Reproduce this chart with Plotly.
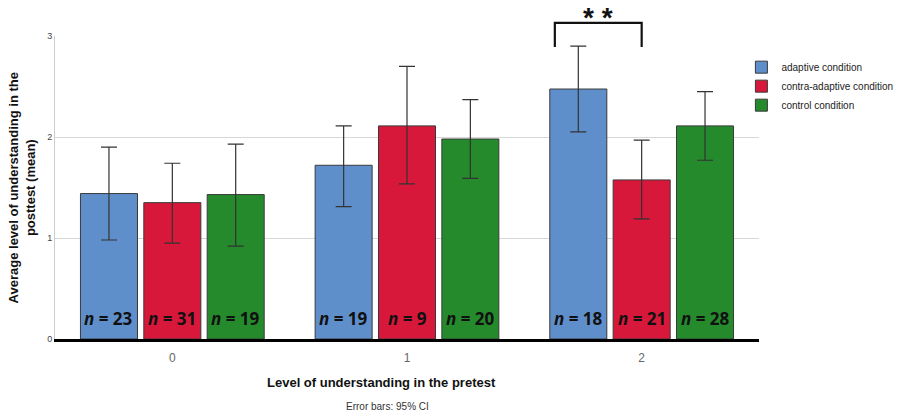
import plotly.graph_objects as go

categories = ["0", "1", "2"]
conditions = ["adaptive condition", "contra-adaptive condition", "control condition"]
colors = ["#5f8fcb", "#d7183b", "#258a2c"]

means_adaptive = [1.44, 1.72, 2.475]
means_contra = [1.35, 2.11, 1.575]
means_control = [1.43, 1.98, 2.11]

ci_upper_adaptive = [1.90, 2.11, 2.90]
ci_upper_contra = [1.74, 2.70, 1.97]
ci_upper_control = [1.93, 2.37, 2.45]

ci_lower_adaptive = [0.98, 1.31, 2.05]
ci_lower_contra = [0.95, 1.535, 1.19]
ci_lower_control = [0.92, 1.59, 1.77]

n_adaptive = [23, 19, 18]
n_contra = [31, 9, 21]
n_control = [19, 20, 28]

means = [means_adaptive, means_contra, means_control]
uppers = [ci_upper_adaptive, ci_upper_contra, ci_upper_control]
lowers = [ci_lower_adaptive, ci_lower_contra, ci_lower_control]
ns = [n_adaptive, n_contra, n_control]

BARGAP = 0.19
GROUPGAP = 0.1

fig = go.Figure()
xpos = [0, 1, 2]
for i, name in enumerate(conditions):
    m = means[i]
    fig.add_trace(go.Bar(
        x=xpos, y=m, name=name,
        marker=dict(color=colors[i], line=dict(color="#3a3a3a", width=1)),
        error_y=dict(type="data", symmetric=False,
                     array=[u - v for u, v in zip(uppers[i], m)],
                     arrayminus=[v - l for v, l in zip(m, lowers[i])],
                     color="#333333", thickness=1.2, width=8),
    ))

slot = (1 - BARGAP) / 3
annotations = []
for i in range(3):
    for j, c in enumerate(xpos):
        annotations.append(dict(
            x=c + (i - 1) * slot, y=0.2, xref="x", yref="y",
            xanchor="center", yanchor="middle",
            text=f"<b><i>n</i> = {ns[i][j]}</b>", showarrow=False,
            font=dict(family="Open Sans", size=17, color="#111111"),
        ))

# significance bracket between adaptive and contra-adaptive in group 2
b_left = 1.63
b_right = 2
annotations.append(dict(x=(b_left + b_right) / 2, y=1.06, xref="x", yref="paper",
                        xanchor="center", yanchor="middle",
                        text="<b>* *</b>", showarrow=False,
                        font=dict(family="Arial", size=28, color="#111111")))
annotations.append(dict(x=0.464, y=-0.145, xref="paper", yref="paper",
                        xanchor="center", yanchor="middle",
                        text="<b>Level of understanding in the pretest</b>", showarrow=False,
                        font=dict(family="Arial", size=13, color="#111111")))
annotations.append(dict(x=0.472, y=-0.224, xref="paper", yref="paper",
                        xanchor="center", yanchor="middle",
                        text="Error bars: 95% CI", showarrow=False,
                        font=dict(family="Arial", size=10, color="#333333")))
annotations.append(dict(x=-0.047, y=0.5, xref="paper", yref="paper", textangle=-90,
                        xanchor="center", yanchor="middle",
                        text="<b>Average level of understanding in the<br>posttest (mean)</b>",
                        showarrow=False,
                        font=dict(family="Arial", size=13, color="#111111")))

shapes = [dict(type="path", xref="x", yref="paper",
               path=f"M {b_left},0.964 L {b_left},1.043 L {b_right},1.043 L {b_right},0.964",
               line=dict(color="#111111", width=2.2))]

fig.update_layout(
    width=912, height=417,
    margin=dict(l=55, r=153, t=36, b=78),
    paper_bgcolor="white", plot_bgcolor="white",
    barmode="group", bargap=BARGAP, bargroupgap=GROUPGAP,
    showlegend=True,
    legend=dict(x=0.975, xanchor="left", y=0.945, yanchor="top",
                font=dict(family="Arial", size=10, color="#222222"),
                tracegroupgap=0, itemwidth=30, bgcolor="rgba(0,0,0,0)"),
    xaxis=dict(range=[-0.5, 2.5], tickvals=xpos, ticktext=categories,
               showline=True, linecolor="black", linewidth=2.5,
               ticks="", showgrid=False, ticklabelstandoff=6,
               tickfont=dict(family="Arial", size=12, color="#666666")),
    yaxis=dict(range=[0, 3], tickvals=[0, 1, 2, 3], ticktext=["0", "1", "2", "3"],
               showgrid=True, gridcolor="#d8d8d8", gridwidth=1,
               showline=True, linecolor="#cccccc", linewidth=1,
               zeroline=False, ticks="",
               tickfont=dict(family="Arial", size=9, color="#444444")),
    annotations=annotations,
    shapes=shapes,
)

fig.write_html("out.html", config={"displayModeBar": False},
               post_script="document.body.style.margin='0';")
